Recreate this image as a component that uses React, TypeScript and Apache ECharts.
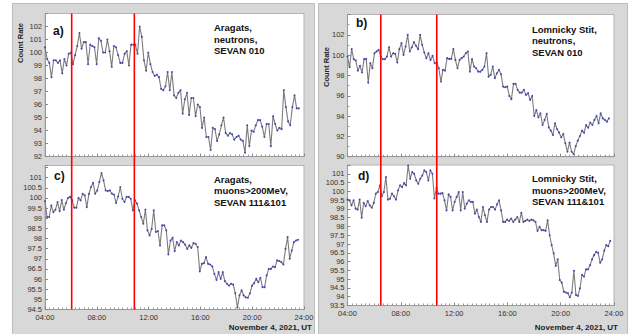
import React, { useEffect, useRef } from "react";
import * as echarts from "echarts";

// ---- data ----
const T_START = 4; // 04:00 UT
const T_END_A = 23.6;
const T_END_B = 23.62;
const T_END_C = 23.54;
const T_END_D = 23.72;

const aragatsNeutrons = [
  100.4, 99.5, 99.2, 98.1, 99.4, 99.4, 99.2, 99.4, 98.4, 99.5, 99.0, 99.9, 100.0, 99.1, 99.8, 100.5, 101.5, 100.3,
  100.8, 100.8, 99.1, 100.6, 100.5, 100.4, 99.1, 101.1, 100.9, 100.0, 100.0, 101.0, 100.1, 98.9, 100.5, 100.4, 99.8,
  99.2, 99.2, 99.9, 100.1, 99.0, 100.6, 100.6, 100.6, 99.9, 102.0, 101.2, 99.4, 98.6, 100.0, 99.1, 98.5, 98.2, 98.3,
  98.1, 97.2, 97.1, 97.4, 98.5, 97.1, 98.5, 96.7, 96.5, 96.9, 97.1, 95.3, 96.4, 96.9, 95.2, 96.5, 96.5, 95.1, 96.0,
  95.8, 94.2, 95.0, 93.5, 93.5, 92.5, 94.2, 94.1, 93.2, 93.7, 94.4, 95.0, 93.8, 93.6, 93.8, 93.7, 93.3, 93.5, 93.6,
  93.3, 93.2, 92.3, 94.4, 92.8, 94.0, 93.9, 94.4, 94.8, 94.8, 94.3, 93.5, 94.5, 94.5, 92.8, 95.1, 94.5, 94.0, 94.2,
  94.1, 97.1, 95.8, 94.7, 94.4, 95.8, 96.7, 95.7, 95.7,
];

const lomnickyNeutrons = [
  99.86, 98.81, 100.59, 99.6, 99.47, 98.48, 98.94, 98.29, 99.6, 99.63, 97.3, 99.21, 98.71, 100.19, 100.36, 100.52,
  99.86, 99.6, 99.6, 99.86, 100.78, 99.86, 100.19, 100.13, 99.27, 100.59, 101.18, 100.03, 100.85, 102.0, 100.36,
  100.78, 101.28, 100.92, 100.59, 102.0, 101.01, 100.26, 99.7, 100.19, 99.53, 99.93, 99.21, 99.27, 98.71, 97.4, 98.55,
  98.48, 99.7, 99.63, 99.63, 100.59, 99.53, 98.71, 99.53, 99.7, 99.86, 100.19, 100.36, 98.38, 99.6, 98.88, 98.71,
  98.38, 98.38, 98.55, 98.88, 100.19, 97.89, 98.06, 98.88, 97.73, 98.22, 98.55, 98.12, 96.9, 96.84, 96.9, 95.98,
  95.66, 97.17, 97.17, 96.58, 96.31, 96.31, 96.58, 96.08, 96.25, 95.59, 95.98, 94.01, 94.6, 93.88, 94.27, 93.12,
  93.62, 94.21, 92.89, 92.57, 92.14, 93.29, 92.7, 92.37, 91.91, 92.24, 91.32, 90.49, 91.38, 90.49, 90.26, 91.05,
  91.58, 92.04, 92.57, 92.37, 93.12, 92.86, 93.35, 93.12, 93.62, 94.01, 93.29, 94.27, 93.78, 93.62, 93.45, 93.78,
];

const aragatsMuons = [
  99.85, 99.06, 99.06, 99.63, 99.3, 99.42, 99.8, 99.35, 99.9, 99.42, 99.75, 100.0, 100.05, 99.88, 99.52, 99.52,
  100.0, 99.88, 100.2, 100.13, 99.55, 100.2, 100.54, 100.74, 100.21, 100.37, 100.79, 101.23, 100.87, 100.37,
  100.34, 100.37, 100.21, 100.16, 99.75, 100.08, 100.54, 99.96, 99.8, 100.05, 100.05, 99.96, 99.39, 99.88, 99.72,
  99.39, 99.06, 98.73, 99.42, 98.4, 98.15, 98.48, 99.39, 98.32, 98.37, 97.66, 98.65, 98.65, 98.4, 97.22, 97.9,
  98.04, 97.38, 97.82, 97.66, 97.9, 97.82, 97.7, 97.49, 97.66, 97.54, 97.77, 97.74, 97.58, 96.38, 96.75, 96.79,
  97.08, 96.75, 96.72, 96.62, 96.26, 95.96, 96.34, 96.01, 96.34, 95.9, 95.77, 95.68, 95.77, 95.73, 95.3, 94.6,
  95.2, 95.44, 95.2, 95.1, 95.08, 95.3, 95.68, 95.8, 96.01, 95.85, 96.06, 95.6, 95.6, 96.18, 96.5, 96.5, 96.62,
  96.59, 96.92, 96.89, 96.84, 96.72, 97.49, 98.07, 97.0, 97.41, 97.82, 97.9, 97.94,
];

const lomnickyMuons = [
  99.53, 99.49, 99.2, 99.49, 99.02, 98.96, 99.53, 98.5, 99.34, 99.15, 99.45, 99.2, 99.07, 99.34, 99.87, 99.96,
  100.34, 99.72, 99.96, 100.81, 99.53, 99.58, 99.87, 99.72, 99.53, 100.06, 100.34, 100.24, 100.47, 100.34, 101.47,
  100.72, 101.1, 101.0, 100.62, 100.43, 100.72, 100.9, 101.19, 101.1, 100.62, 101.19, 101.0, 99.6, 100.2, 99.87,
  99.87, 99.9, 99.49, 98.92, 99.83, 99.68, 98.92, 99.4, 99.68, 99.96, 98.92, 99.96, 99.02, 99.3, 99.49, 99.4, 99.4,
  98.73, 98.96, 98.54, 98.26, 99.11, 98.64, 98.26, 98.96, 99.11, 99.11, 98.96, 99.26, 99.49, 98.92, 98.26, 98.26,
  98.39, 98.32, 98.45, 98.26, 98.39, 98.54, 98.26, 98.77, 98.26, 98.32, 98.39, 98.32, 98.39, 98.35, 98.26, 97.75,
  97.98, 97.79, 97.79, 97.75, 98.35, 97.5, 96.94, 96.47, 95.75, 96.13, 94.95, 94.8, 94.29, 94.24, 94.2, 93.97,
  94.24, 95.48, 94.1, 94.05, 94.48, 95.24, 95.14, 95.56, 95.56, 95.8, 96.13, 96.37, 96.56, 96.5, 95.94, 96.13,
  96.62, 96.94, 96.88, 97.18,
];

const xTicks = [4, 8, 12, 16, 20, 24];
const redLinesLeft = [6.06, 10.9]; // Aragats panels (hours UT)
const redLinesRight = [6.5, 10.7]; // Lomnicky Stit panels (hours UT)

const yRanges = [
  { min: 92, max: 103, interval: 1, labelMax: 102 },
  { min: 90, max: 104, interval: 2, labelMax: 102 },
  { min: 94.5, max: 101.6, interval: 0.5, labelMax: 101 },
  { min: 93.5, max: 101.5, interval: 0.5, labelMax: 101 },
];

const panelLabels = ["a)", "b)", "c)", "d)"];
const panelTitles = [
  "Aragats,\nneutrons,\nSEVAN 010",
  "Lomnicky Stit,\nneutrons,\nSEVAN 010",
  "Aragats,\nmuons>200MeV,\nSEVAN 111&101",
  "Lomnicky Stit,\nmuons>200MeV,\nSEVAN 111&101",
];
const dateLabel = "November 4, 2021, UT";
const yTitle = "Count Rate";

// ---- helpers ----
const FONT = "'Liberation Sans', Arial, sans-serif";

function toSeries(values: number[], tEnd: number) {
  const n = values.length;
  return values.map((v, k) => [T_START + (k * (tEnd - T_START)) / (n - 1), v]);
}

const grids = [
  { left: 45, top: 13.5, width: 259, height: 143 },
  { left: 347.5, top: 14.5, width: 266.5, height: 142.2 },
  { left: 45, top: 165.5, width: 259, height: 144 },
  { left: 347.5, top: 165, width: 266.5, height: 140.5 },
];

function hh(v: number) {
  return (v < 10 ? "0" : "") + v + ":00";
}

export default function App() {
  const ref = useRef<HTMLDivElement>(null);

  useEffect(() => {
    if (!ref.current) return;
    const chart = echarts.init(ref.current, null, { renderer: "svg" });

    const xAxis = grids.map((_, i) => ({
      type: "value",
      gridIndex: i,
      min: xTicks[0],
      max: xTicks[xTicks.length - 1],
      interval: xTicks[1] - xTicks[0],
      axisLine: { show: true, lineStyle: { color: "#9a9a9a", width: 1 } },
      axisTick: { show: true, inside: true, length: 3, lineStyle: { color: "#888" } },
      minorTick: { show: true, splitNumber: 12, length: 2, lineStyle: { color: "#999" } },
      splitLine: { show: false },
      axisLabel: {
        show: i >= 2,
        formatter: (v: number) => hh(v),
        fontSize: 7.5,
        color: "#333",
        fontFamily: FONT,
        margin: 4,
        showMinLabel: true,
        showMaxLabel: true,
      },
    }));

    const yAxis = yRanges.map((r, i) => ({
      type: "value",
      gridIndex: i,
      min: r.min,
      max: r.max,
      interval: r.interval,
      axisLine: { show: true, lineStyle: { color: "#9a9a9a", width: 1 } },
      axisTick: { show: true, inside: true, length: 3, lineStyle: { color: "#888" } },
      minorTick: { show: i === 1, splitNumber: 2, length: 2, lineStyle: { color: "#999" } },
      splitLine: { show: false },
      axisLabel: {
        fontSize: 7.5,
        color: "#333",
        fontFamily: FONT,
        margin: 3,
        formatter: (v: number) => (v > r.labelMax + 1e-6 ? "" : String(+v.toFixed(1))),
      },
    }));

    const datasets = [
      toSeries(aragatsNeutrons, T_END_A),
      toSeries(lomnickyNeutrons, T_END_B),
      toSeries(aragatsMuons, T_END_C),
      toSeries(lomnickyMuons, T_END_D),
    ];

    const series = datasets.map((d, i) => ({
      type: "line",
      xAxisIndex: i,
      yAxisIndex: i,
      data: d,
      showAllSymbol: true,
      symbol: "circle",
      symbolSize: 1.9,
      itemStyle: { color: "#4646b0" },
      lineStyle: { color: "#7c7c7c", width: 1.1 },
      emphasis: { disabled: true },
    }));

    const baseGraphic: any[] = [
      {
        type: "rect",
        id: "frameL",
        z: -10,
        shape: { x: 12.5, y: 3.5, width: 302, height: 340 },
        style: { fill: "#d8d8d8", stroke: "#bcbcbc", lineWidth: 1 },
      },
      {
        type: "rect",
        id: "frameR",
        z: -10,
        shape: { x: 318.5, y: 3.5, width: 309, height: 340 },
        style: { fill: "#d8d8d8", stroke: "#bcbcbc", lineWidth: 1 },
      },
    ];

    const labelPos = [
      [53, 30.5],
      [356, 23],
      [54, 176],
      [358, 176],
    ];
    const titlePos = [
      [214, 21.75],
      [532, 23.25],
      [214, 173.25],
      [532, 172.75],
    ];
    panelLabels.forEach((t, i) => {
      baseGraphic.push({
        type: "text",
        id: "pl" + i,
        z: 30,
        x: labelPos[i][0],
        y: labelPos[i][1],
        style: { text: t, font: `bold 12px ${FONT}`, fill: "#111", textVerticalAlign: "middle" },
      });
    });
    panelTitles.forEach((t, i) => {
      baseGraphic.push({
        type: "text",
        id: "pt" + i,
        z: 30,
        x: titlePos[i][0],
        y: titlePos[i][1],
        style: {
          text: t,
          font: `bold 9.5px ${FONT}`,
          fill: "#111",
          lineHeight: 11.5,
          textVerticalAlign: "top",
        },
      });
    });
    [
      [312, 327],
      [618, 327],
    ].forEach((p, i) => {
      baseGraphic.push({
        type: "text",
        id: "date" + i,
        z: 30,
        x: p[0],
        y: p[1],
        style: {
          text: dateLabel,
          font: `bold 8px ${FONT}`,
          fill: "#222",
          textAlign: "right",
          textVerticalAlign: "middle",
        },
      });
    });
    [
      [20, 43],
      [326, 67],
    ].forEach((p, i) => {
      baseGraphic.push({
        type: "text",
        id: "yt" + i,
        z: 30,
        x: p[0],
        y: p[1],
        rotation: Math.PI / 2,
        style: {
          text: yTitle,
          font: `bold 7.5px ${FONT}`,
          fill: "#222",
          textAlign: "center",
          textVerticalAlign: "middle",
        },
      });
    });

    chart.setOption({
      animation: false,
      backgroundColor: "#ffffff",
      grid: grids.map((g) => ({
        ...g,
        show: true,
        backgroundColor: "#ffffff",
        borderColor: "#b4b4b4",
        borderWidth: 1,
        containLabel: false,
      })),
      xAxis,
      yAxis,
      series,
      graphic: baseGraphic,
    });

    // red vertical markers spanning top and bottom panels, placed through the axis scales
    const red: any[] = [];
    const yTopL = chart.convertToPixel({ yAxisIndex: 0 }, yRanges[0].max) as number;
    const yBotL = chart.convertToPixel({ yAxisIndex: 2 }, yRanges[2].min) as number;
    const yTopR = chart.convertToPixel({ yAxisIndex: 1 }, yRanges[1].max) as number;
    const yBotR = chart.convertToPixel({ yAxisIndex: 3 }, yRanges[3].min) as number;
    redLinesLeft.forEach((t, k) => {
      const x = chart.convertToPixel({ xAxisIndex: 0 }, t) as number;
      red.push({
        type: "line",
        id: "redL" + k,
        z: 20,
        shape: { x1: x, y1: yTopL, x2: x, y2: yBotL },
        style: { stroke: "#ff0000", lineWidth: 1.6 },
      });
    });
    redLinesRight.forEach((t, k) => {
      const x = chart.convertToPixel({ xAxisIndex: 1 }, t) as number;
      red.push({
        type: "line",
        id: "redR" + k,
        z: 20,
        shape: { x1: x, y1: yTopR, x2: x, y2: yBotR },
        style: { stroke: "#ff0000", lineWidth: 1.6 },
      });
    });
    chart.setOption({ graphic: [...baseGraphic, ...red] });

    return () => chart.dispose();
  }, []);

  return (
    <div
      ref={ref}
      style={{ position: "fixed", left: 0, top: 0, width: 641, height: 334 }}
    />
  );
}
